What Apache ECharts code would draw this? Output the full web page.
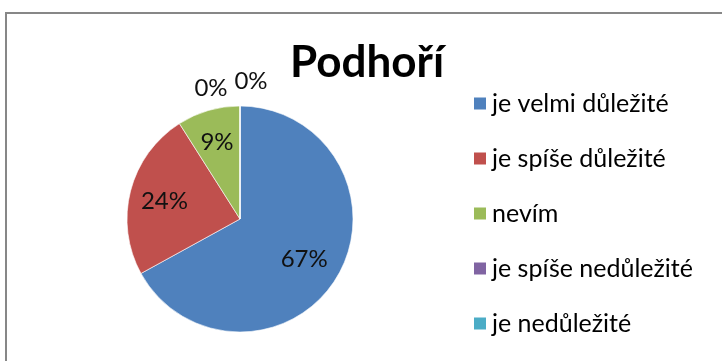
<!DOCTYPE html>
<html>
<head>
<meta charset="utf-8">
<script src="https://cdn.jsdelivr.net/npm/echarts@6/dist/echarts.min.js"></script>
<style>
  html, body { margin: 0; padding: 0; background: #fff; }
  #chart { width: 722px; height: 361px; }
</style>
</head>
<body>
<div id="chart"></div>
<script>
// Survey answers for the "Podhoří" region (share of respondents, %)
const categories = ['je velmi důležité', 'je spíše důležité', 'nevím', 'je spíše nedůležité', 'je nedůležité'];
const shares = [67, 24, 9, 0, 0];
const colors = ['#4F81BD', '#C0504D', '#9BBB59', '#8064A2', '#4BACC6'];
const chartTitle = 'Podhoří';

// Pie geometry
const CX = 240, CY = 219, R = 113;
// Distance of each value label from the centre, as a fraction of the radius
const labelRadius = [0.66, 0.69, 0.73];
// Labels of empty slices sit above the pie, side by side
const emptyLabelOffsets = [[-29, -131], [11, -138]];

const FONT = 'Lato, "Noto Sans", sans-serif';

const chart = echarts.init(document.getElementById('chart'), null, { renderer: 'canvas' });

chart.setOption({
  animation: false,
  backgroundColor: '#fff',
  color: colors,
  title: {
    text: chartTitle,
    left: 290,
    top: 41,
    padding: 0,
    textStyle: { fontFamily: FONT, fontWeight: 'bold', fontSize: 44, color: '#000' }
  },
  legend: {
    orient: 'vertical',
    left: 467,
    top: 86,
    itemWidth: 14,
    itemHeight: 14,
    itemGap: 30,
    icon: 'rect',
    selectedMode: false,
    data: categories,
    textStyle: { fontFamily: FONT, fontSize: 25, color: '#000' }
  },
  graphic: [{
    type: 'rect',
    silent: true,
    shape: { x: 6, y: 13, width: 800, height: 400 },
    style: { fill: 'none', stroke: '#878787', lineWidth: 2 }
  }],
  series: [{
    type: 'pie',
    center: [CX, CY],
    radius: [0, R],
    startAngle: 90,
    clockwise: true,
    avoidLabelOverlap: false,
    silent: true,
    itemStyle: { borderColor: '#fff', borderWidth: 0.6 },
    label: {
      show: true,
      position: 'inner',
      fontFamily: FONT,
      fontSize: 24,
      color: '#111',
      formatter: p => Math.round(p.percent) + '%'
    },
    labelLine: { show: false },
    labelLayout: function (p) {
      const value = shares[p.dataIndex];
      if (value === 0) {
        const k = shares.slice(0, p.dataIndex).filter(v => v === 0).length;
        const off = emptyLabelOffsets[k] || [0, -R - 20];
        return { x: CX + off[0], y: CY + off[1], align: 'center', verticalAlign: 'middle' };
      }
      // direction of the slice's mid-angle, taken from the default inner label spot
      const dx = p.labelRect.x + p.labelRect.width / 2 - CX;
      const dy = p.labelRect.y + p.labelRect.height / 2 - CY;
      const len = Math.sqrt(dx * dx + dy * dy) || 1;
      const dist = R * (labelRadius[p.dataIndex] || 0.6);
      return {
        x: CX + dx / len * dist,
        y: CY + dy / len * dist + 2,
        align: 'center',
        verticalAlign: 'middle'
      };
    },
    data: categories.map((name, i) => ({ name: name, value: shares[i] }))
  }]
});
</script>
</body>
</html>
